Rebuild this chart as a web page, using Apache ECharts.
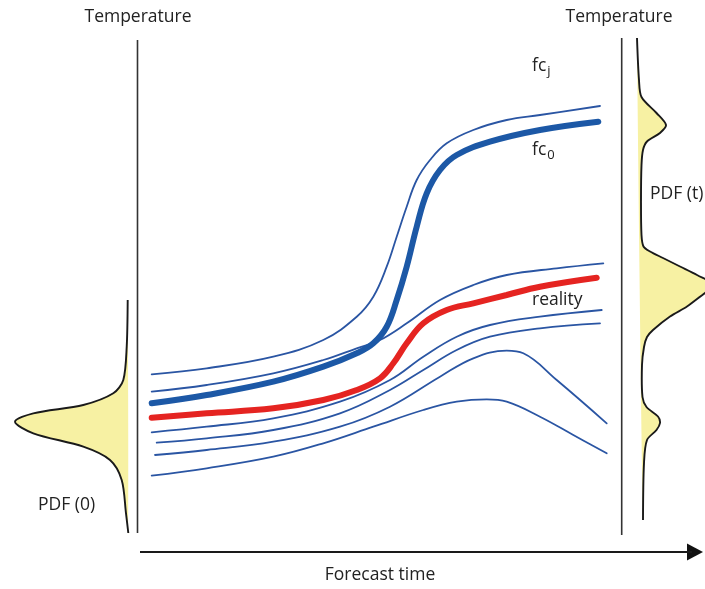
<!DOCTYPE html>
<html><head><meta charset="utf-8">
<script src="https://cdn.jsdelivr.net/npm/echarts@6/dist/echarts.min.js"></script>
<style>html,body{margin:0;padding:0;background:#fff}#c{width:705px;height:589px}</style>
</head><body><div id="c"></div>
<script>
// Schematic units: x = forecast time, y = temperature (screen-oriented)
const memberTopRight = [[151.7,374.3],[206.7,368.3],[273.3,356.7],[323.3,340],[356.7,316.7],[373.3,296.7],[386.7,266.7],[396.7,236.7],[406.7,206.7],[416.7,180],[430,160],[446.7,143.3],[473.3,130],[506.7,120],[540,115],[600,106]];
const memberAboveReality = [[151.7,391.7],[206.7,385],[273.3,373.3],[323.3,360],[356.7,348.3],[380,340],[406.7,323.3],[440,300],[473.3,285],[506.7,275],[556.7,268.3],[603.3,263.3]];
const fc0 = [[151.7,403.3],[206.7,395],[273.3,381.7],[323.3,366.7],[356.7,353.3],[373.3,343.3],[386.7,326.7],[396.7,300],[406.7,266.7],[416.7,226.7],[426.7,193.3],[440,170],[456.7,155],[490,141.7],[540,130],[598.3,121.7]];
const reality = [[151.7,417.7],[206.7,413.3],[273.3,408.3],[323.3,400],[356.7,390],[380,378.3],[393.3,363.3],[406.7,343.3],[423.3,323.3],[446.7,310],[473.3,303.3],[506.7,295],[540,286.7],[596.7,277.7]];
const memberBelow1 = [[151.7,432.3],[206.7,426.7],[273.3,418.3],[340,401.7],[390,380],[423.3,356.7],[456.7,336.7],[490,325],[540,316.7],[601.7,310]];
const memberBelow2 = [[156.7,442.7],[206.7,438.3],[273.3,430],[340,413.3],[390,390],[423.3,370],[456.7,350],[490,336.7],[540,328.3],[600,323.3]];
const memberPeak1 = [[155,455],[206.7,450],[273.3,441.7],[340,426.7],[390,406.7],[440,376.7],[473.3,358.3],[506.7,350.7],[523.3,353.3],[556.7,380],[606.7,423.3]];
const memberPeak2 = [[151.7,475.7],[206.7,468.3],[273.3,456.7],[323.3,443.3],[373.3,426.7],[423.3,410],[456.7,401.7],[486.7,399.3],[506.7,401.7],[540,416.7],[573.3,435],[606.7,453.3]];
const pdfStart = [[127.7,300],[126.7,346.7],[123.3,380],[113.3,393.3],[83.3,405],[33.3,413.3],[15,421.7],[33.3,433.3],[83.3,446.7],[110,460],[121.7,480],[126,513.3],[128.3,533]];
const pdfEnd = [[637,38],[639,80],[641.5,97],[656.5,113],[666,125],[660,133],[647,141.5],[643,150],[641.5,165],[641,200],[641.5,235],[643.5,246.5],[650,251.5],[663,258],[680,266.5],[697,275],[716,286],[705,293],[687,306.5],[670,316.5],[653,330],[647,337],[644,347],[642,365],[642.5,397],[646.5,407],[658,416.5],[660,423],[656.5,430],[647,440],[644,463],[643,520]];
const leftAxis = [[137.5,40],[137.5,533]];
const rightAxis = [[621.7,38],[621.7,535]];
const timeAxis = [[140,552],[692,552]];
const arrowTip = [[695,552]];

const FONT = '"Open Sans"';
const FS = '17.5px ';
const TXT = '#222';
const thinBlue = '#2a55a3', thickBlue = '#1c58a6', red = '#e52421';

function curve(data, color, width, z){
  return {type:'line', data, symbol:'none', smooth:0.4, silent:true, z,
    lineStyle:{color, width, cap:'round'}};
}
function pdfSeries(pts){
  return {type:'custom', data: pts, silent:true, z:1, clip:false,
    renderItem:(params, api)=>{
      if(params.dataIndex!==0) return null;
      const p = pts.map(d=>api.coord(d));
      return {type:'group', children:[
        {type:'polygon', shape:{points:p, smooth:0.3}, style:{fill:'#f7f1a3', stroke:null}},
        {type:'polyline', shape:{points:p, smooth:0.3}, style:{stroke:'#1a1a1a', lineWidth:1.9, fill:null}}
      ]};
    }};
}
const chart = echarts.init(document.getElementById('c'));
chart.setOption({
  animation:false,
  grid:{left:0,right:0,top:0,bottom:0},
  xAxis:{type:'value',min:0,max:705,show:false},
  yAxis:{type:'value',min:0,max:589,inverse:true,show:false},
  series:[
    pdfSeries(pdfStart),
    pdfSeries(pdfEnd),
    {type:'line', data:leftAxis, symbol:'none', silent:true, lineStyle:{color:'#333',width:1.6}},
    {type:'line', data:rightAxis, symbol:'none', silent:true, lineStyle:{color:'#333',width:1.6}},
    {type:'line', data:timeAxis, symbol:'none', silent:true, lineStyle:{color:'#1a1a1a',width:1.8}},
    {type:'scatter', data:arrowTip, symbol:'triangle', symbolSize:[17,16], symbolRotate:-90, silent:true,
      itemStyle:{color:'#111', opacity:1}, clip:false},
    curve(memberTopRight, thinBlue, 1.8, 2),
    curve(memberAboveReality, thinBlue, 1.8, 2),
    curve(memberBelow1, thinBlue, 1.8, 2),
    curve(memberBelow2, thinBlue, 1.8, 2),
    curve(memberPeak1, thinBlue, 1.8, 2),
    curve(memberPeak2, thinBlue, 1.8, 2),
    curve(reality, red, 6, 3),
    curve(fc0, thickBlue, 6, 4)
  ],
  graphic:[
    {type:'text', x:138, y:17, style:{text:'Temperature', font:FS+FONT, fill:TXT, textAlign:'center', textVerticalAlign:'middle'}},
    {type:'text', x:619, y:17, style:{text:'Temperature', font:FS+FONT, fill:TXT, textAlign:'center', textVerticalAlign:'middle'}},
    {type:'text', x:380, y:575, style:{text:'Forecast time', font:FS+FONT, fill:TXT, textAlign:'center', textVerticalAlign:'middle'}},
    {type:'text', x:38, y:505, style:{text:'PDF (0)', font:FS+FONT, fill:TXT, textAlign:'left', textVerticalAlign:'middle'}},
    {type:'text', x:650, y:194, style:{text:'PDF (t)', font:FS+FONT, fill:TXT, textAlign:'left', textVerticalAlign:'middle'}},
    {type:'text', x:532, y:300, style:{text:'reality', font:FS+FONT, fill:TXT, textAlign:'left', textVerticalAlign:'middle'}},
    {type:'text', x:532, y:66, style:{text:'{a|fc}{b|j}', fill:TXT, textAlign:'left', textVerticalAlign:'middle',
      rich:{a:{font:FS+FONT, fill:TXT}, b:{font:'13px '+FONT, fill:TXT, padding:[11,0,0,1]}}}},
    {type:'text', x:532, y:150, style:{text:'{a|fc}{b|0}', fill:TXT, textAlign:'left', textVerticalAlign:'middle',
      rich:{a:{font:FS+FONT, fill:TXT}, b:{font:'13px '+FONT, fill:TXT, padding:[11,0,0,1]}}}}
  ]
});
</script>
</body></html>
